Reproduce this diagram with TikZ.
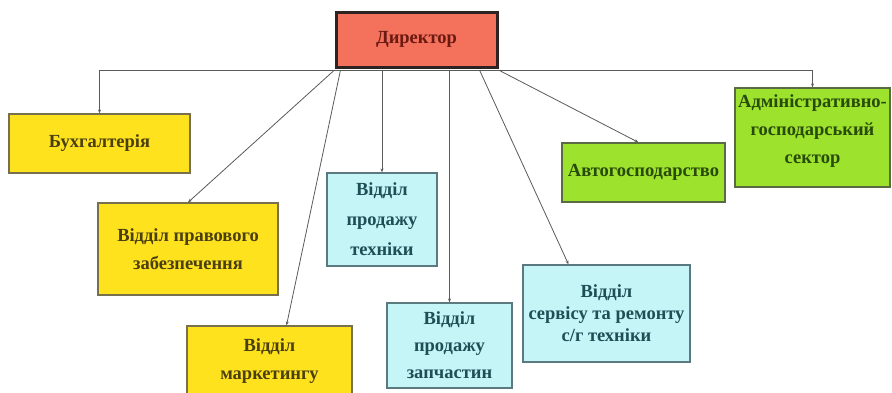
\documentclass[tikz,border=0pt]{standalone}
\usepackage{fontspec}
\setmainfont{Liberation Serif}
\usetikzlibrary{arrows.meta}
\definecolor{dirfill}{HTML}{F4715C}
\definecolor{dirline}{HTML}{2E2222}
\definecolor{dirtext}{HTML}{6B1A12}
\definecolor{yelfill}{HTML}{FFE21E}
\definecolor{yelline}{HTML}{77704E}
\definecolor{yeltext}{HTML}{4A3F10}
\definecolor{cyafill}{HTML}{C6F5F8}
\definecolor{cyaline}{HTML}{5A7A80}
\definecolor{cyatext}{HTML}{1E4F55}
\definecolor{grefill}{HTML}{9DE22C}
\definecolor{greline}{HTML}{5A6A42}
\definecolor{gretext}{HTML}{284A0A}
\definecolor{conn}{HTML}{5A5A5A}
\tikzset{
  box/.style={draw, line width=1.2pt, align=center, inner sep=1pt,
    font=\fontsize{18.5}{28}\selectfont\bfseries},
  dirbox/.style={box, fill=dirfill, draw=dirline, line width=3pt, text=dirtext},
  yelbox/.style={box, fill=yelfill, draw=yelline, text=yeltext},
  cyabox/.style={box, fill=cyafill, draw=cyaline, text=cyatext},
  grebox/.style={box, fill=grefill, draw=greline, text=gretext},
  link/.style={draw=conn, line width=0.8pt, -{Stealth[length=4pt,width=3pt]}},
  plain/.style={draw=conn, line width=0.8pt}
}
\begin{document}
\begin{tikzpicture}[x=1pt,y=-1pt]
\useasboundingbox (0,0) rectangle (892,392);
\fill[white] (0,0) rectangle (892,392);
% boxes
\node[dirbox, minimum width=161pt, minimum height=55pt] (dir) at (416.5,39.5) {Директор};
\node[yelbox, minimum width=181pt, minimum height=59pt] (buh) at (99.5,143.5) {Бухгалтерія};
\node[yelbox, minimum width=180pt, minimum height=92pt] (prav) at (188,249) {Відділ правового\\забезпечення};
\node[yelbox, minimum width=165pt, minimum height=70pt] (mark) at (269.5,361) {Відділ\\маркетингу};
\node[cyabox, minimum width=110pt, minimum height=93pt, font=\fontsize{18.5}{30}\selectfont\bfseries] (tech) at (382,219.5) {Відділ\\продажу\\техніки};
\node[cyabox, minimum width=125pt, minimum height=85pt, font=\fontsize{18.5}{27}\selectfont\bfseries] (zap) at (449.5,345.5) {Відділ\\продажу\\запчастин};
\node[cyabox, minimum width=167pt, minimum height=97pt, font=\fontsize{18.5}{22}\selectfont\bfseries] (serv) at (606.5,313.5) {Відділ\\сервісу та ремонту\\с/г техніки};
\node[grebox, minimum width=163pt, minimum height=59pt] (avto) at (643.5,172.5) {Автогосподарство};
\node[grebox, minimum width=155pt, minimum height=99pt] (adm) at (812.5,137.5) {Адміністративно-\\господарський\\сектор\\[-20pt]\strut};
% start points on director bottom
\coordinate (dl) at ([yshift=-1.5pt]dir.south west);
\coordinate (dm) at ([xshift=6pt,yshift=-1.5pt]dir.south west);
\coordinate (dh) at ([yshift=-1.5pt]dir.south);
\coordinate (ds) at ([xshift=-19pt,yshift=-1.5pt]dir.south east);
\coordinate (dr) at ([yshift=-1.5pt]dir.south east);
\coordinate (hl) at (buh.north |- dh);
\coordinate (hr) at (adm.north |- dh);
% connectors
\draw[plain] (hl) -- (hr);
\draw[link] (hl) -- (buh.north);
\draw[link] (hr) -- (adm.north);
\draw[link] (dl) -- (prav.north);
\draw[link] (dm) -- ([xshift=17pt]mark.north);
\draw[link] (tech.north |- dh) -- (tech.north);
\draw[link] (zap.north |- dh) -- (zap.north);
\draw[link] (ds) -- ([xshift=-38pt]serv.north);
\draw[link] (dr) -- ([xshift=-5pt]avto.north);
\end{tikzpicture}
\end{document}
